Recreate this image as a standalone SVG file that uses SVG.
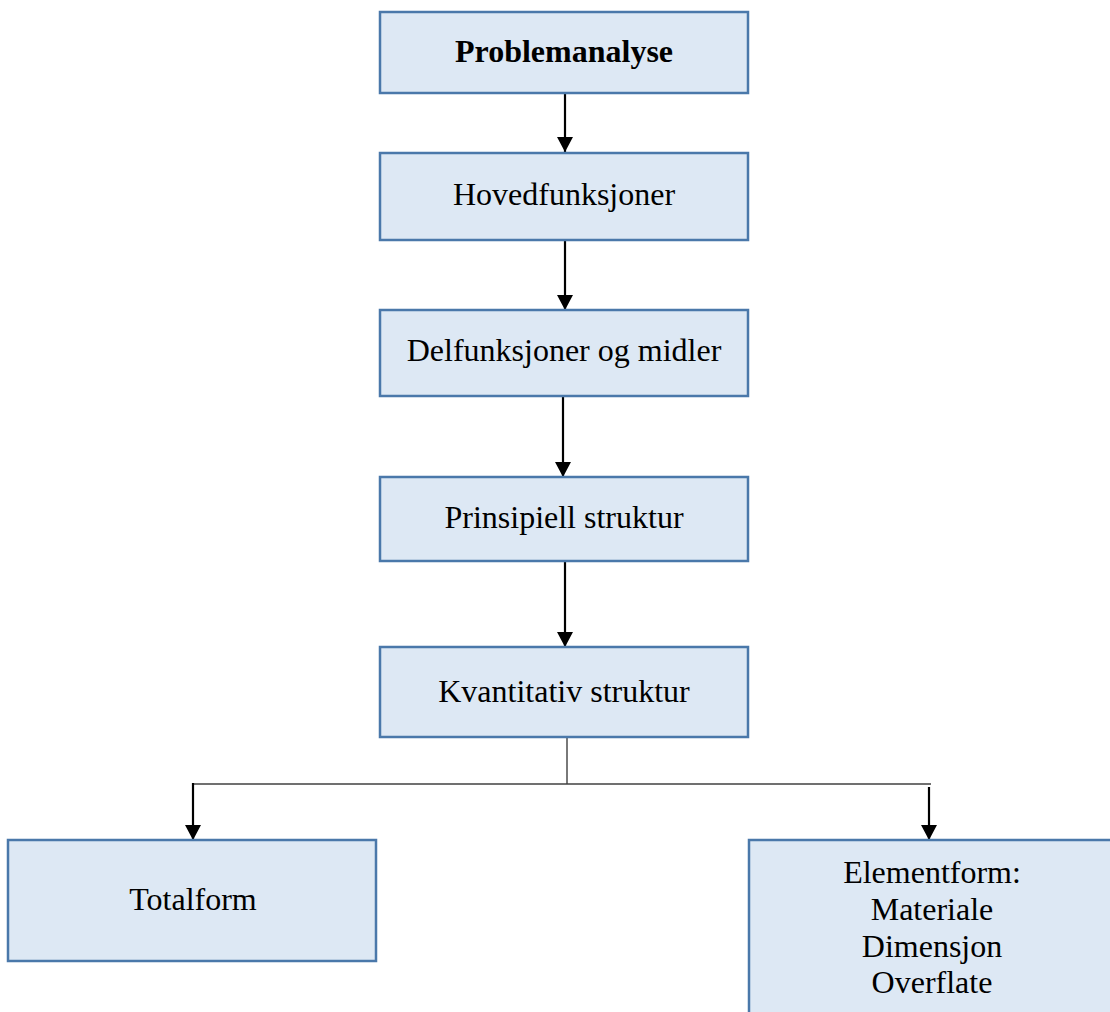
<svg xmlns="http://www.w3.org/2000/svg" width="1110" height="1012" viewBox="0 0 1110 1012">
  <style>
    .box { fill: #dde8f4; stroke: #4a78aa; stroke-width: 2.5; }
    .lbl { font-family: "Liberation Serif", "Times New Roman", serif; font-size: 32px; fill: #000; text-anchor: middle; }
    .bold { font-weight: bold; }
    .arrow { stroke: #000; stroke-width: 2.2; fill: none; marker-end: url(#head); }
    .tree { stroke: #404040; stroke-width: 1.4; fill: none; }
  </style>
  <defs>
    <marker id="head" markerUnits="userSpaceOnUse" viewBox="0 0 15 16" refX="15" refY="8" markerWidth="15" markerHeight="16" orient="auto">
      <path d="M0,0 L15,8 L0,16 z" fill="#000"/>
    </marker>
  </defs>

  <rect width="1110" height="1012" fill="#fff"/>

  <!-- connectors -->
  <g id="connectors">
    <line class="arrow" x1="565" y1="93" x2="565" y2="152"/>
    <line class="arrow" x1="565" y1="240" x2="565" y2="310"/>
    <line class="arrow" x1="563" y1="396" x2="563" y2="477"/>
    <line class="arrow" x1="565" y1="561" x2="565" y2="647"/>
    <!-- split below Kvantitativ struktur -->
    <line class="tree" x1="567" y1="738" x2="567" y2="784"/>
    <line class="tree" x1="193" y1="784" x2="931" y2="784"/>
    <line class="arrow" x1="193" y1="783" x2="193" y2="840"/>
    <line class="arrow" x1="929" y1="787" x2="929" y2="840"/>
  </g>

  <g id="problemanalyse">
    <rect class="box" x="380" y="12" width="368" height="81"/>
    <text class="lbl bold" x="564" y="62">Problemanalyse</text>
  </g>

  <g id="hovedfunksjoner">
    <rect class="box" x="380" y="153" width="368" height="87"/>
    <text class="lbl" x="564" y="205">Hovedfunksjoner</text>
  </g>

  <g id="delfunksjoner">
    <rect class="box" x="380" y="310" width="368" height="86"/>
    <text class="lbl" x="564" y="361">Delfunksjoner og midler</text>
  </g>

  <g id="prinsipiell">
    <rect class="box" x="380" y="477" width="368" height="84"/>
    <text class="lbl" x="564" y="528">Prinsipiell struktur</text>
  </g>

  <g id="kvantitativ">
    <rect class="box" x="380" y="647" width="368" height="90"/>
    <text class="lbl" x="564" y="702">Kvantitativ struktur</text>
  </g>

  <g id="totalform">
    <rect class="box" x="8" y="840" width="368" height="121"/>
    <text class="lbl" x="193" y="910">Totalform</text>
  </g>

  <g id="elementform">
    <rect class="box" x="749" y="840" width="366" height="190"/>
    <text class="lbl" x="932" y="883">Elementform:</text>
    <text class="lbl" x="932" y="920">Materiale</text>
    <text class="lbl" x="932" y="957">Dimensjon</text>
    <text class="lbl" x="932" y="993">Overflate</text>
  </g>
</svg>
